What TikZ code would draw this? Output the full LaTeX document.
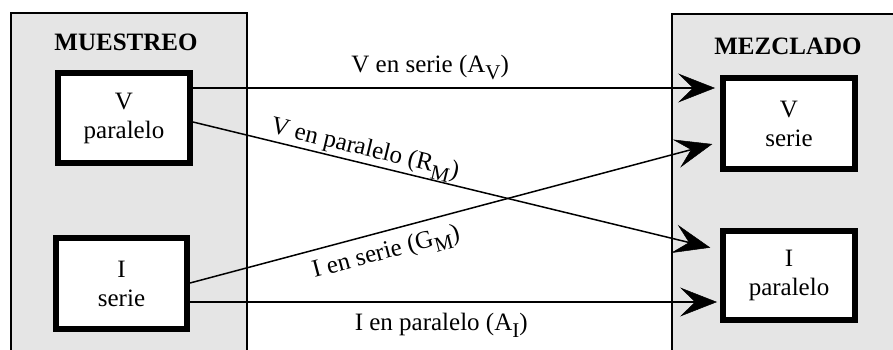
\documentclass[tikz,border=0pt]{standalone}
\usepackage{fontspec}
\setmainfont{Liberation Serif}
\usetikzlibrary{arrows.meta}
\newcommand\subsc[1]{\raisebox{-7pt}{\fontsize{21}{21}\selectfont #1}}
\begin{document}
\begin{tikzpicture}[x=1pt,y=-1pt,
  font=\fontsize{25}{29}\selectfont,
  panel/.style={draw=black, line width=1.5pt, fill=gray!20},
  panellabel/.style={font=\fontsize{25}{29}\selectfont\bfseries, inner sep=0pt},
  blk/.style={draw=black, line width=6pt, fill=white, align=center, inner sep=0pt},
  arr/.style={draw=black, line width=1.5pt, -{Stealth[length=37pt,width=29pt,inset=15pt,line width=0.5pt]}},
  lbl/.style={inner sep=0pt}
]
\useasboundingbox (0,0) rectangle (893,350);
\draw[panel] (11,13) rectangle (247,356);
\draw[panel] (672,14) rectangle (898,356);
\node[panellabel] (mu) at (126,42) {MUESTREO};
\node[panellabel] (me) at (788,46) {MEZCLADO};
\node[blk, minimum width=132pt, minimum height=90pt] (vp) at (124,118) {V\\paralelo};
\node[blk, minimum width=131pt, minimum height=91pt] (is) at (121.5,283.5) {I\\serie};
\node[blk, minimum width=132pt, minimum height=91pt] (vs) at (789,123.5) {V\\serie};
\node[blk, minimum width=132pt, minimum height=89pt] (ip) at (789,275.5) {I\\paralelo};
\draw[arr, shorten >=5pt] (vp.east |- 0,88) -- node[lbl, pos=.45, above=7pt] {V en serie (A\subsc{V})} (vs.west |- 0,88);
\draw[arr, shorten >=10pt] (vp.east |- 0,122) -- node[lbl, pos=.32, sloped, above=0pt] {V en paralelo (R\subsc{M})} (ip.west |- 0,250);
\draw[arr, shorten >=8pt] (is.east |- 0,283) -- node[lbl, pos=.36, sloped, below=9pt] {I en serie (G\subsc{M})} (vs.west |- 0,142);
\draw[arr, shorten >=3pt] (is.east |- 0,302) -- node[lbl, pos=.474, below=10pt] {I en paralelo (A\subsc{I})} (ip.west |- 0,302);
\end{tikzpicture}
\end{document}
